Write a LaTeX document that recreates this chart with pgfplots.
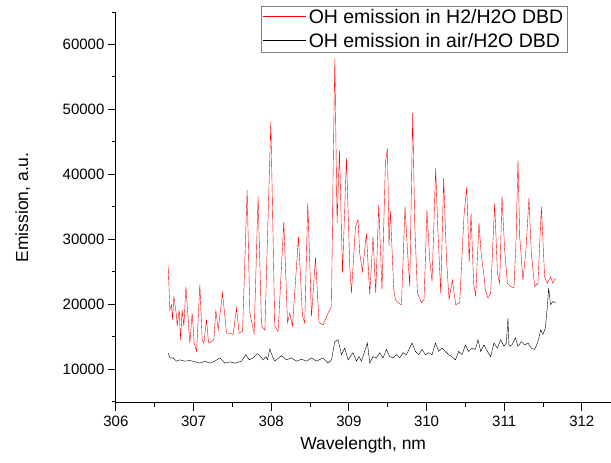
\documentclass[border=0pt]{standalone}
\usepackage{pgfplots}
\pgfplotsset{compat=1.18}
\usepackage{fontspec}
\setmainfont{Liberation Sans}
\begin{document}
\begin{tikzpicture}
\begin{axis}[
  scale only axis,
  width=495pt, height=391pt,
  xmin=306, xmax=312.37, ymin=4800, ymax=65000,
  axis x line*=bottom, axis y line*=left,
  axis line style={line width=0.9pt, -},
  tick align=outside,
  scaled y ticks=false, scaled x ticks=false,
  xtick={306,307,308,309,310,311,312},
  minor xtick={306.5,307.5,308.5,309.5,310.5,311.5},
  ytick={10000,20000,30000,40000,50000,60000},
  minor ytick={5000,15000,25000,35000,45000,55000,65000},
  major tick length=8pt, minor tick length=4pt,
  tick style={line width=0.9pt, black},
  /pgf/number format/1000 sep={},
  /pgf/number format/assume math mode=true,
  ticklabel style={font=\fontsize{15}{18}\selectfont},
  xticklabel style={yshift=-2pt},
  xlabel={Wavelength, nm}, ylabel={Emission, a.u.},
  label style={font=\fontsize{17.5}{21}\selectfont},
  xlabel style={at={(axis description cs:0.5,-0.107)}, anchor=center},
  ylabel style={at={(axis description cs:-0.188,0.5)}, anchor=center},
  legend style={at={(0.913,1.015)}, anchor=north east, draw=gray, line width=0.6pt,
    font=\fontsize{19.5}{23}\selectfont, inner xsep=2pt, inner ysep=1pt, row sep=4.5pt},
  legend cell align=left,
  legend image code/.code={\draw[#1, line width=0.7pt, yshift=0.5pt] (0pt,0pt) -- (43pt,0pt);},
  clip=false,
]
\addplot[red, line width=0.4pt] coordinates {
(306.673,25800)(306.695,19100)(306.717,19900)(306.730,17600)(306.746,21200)(306.781,18100)(306.789,16600)(306.815,19100)(306.833,14500)(306.853,19100)(306.875,16600)(306.901,22700)(306.931,17600)(306.952,14000)(306.982,18600)(307.008,14000)(307.039,12700)(307.081,23000)(307.111,14500)(307.133,14000)(307.167,17600)(307.193,14000)(307.232,14200)(307.261,14500)(307.287,19100)(307.317,16000)(307.373,21700)(307.425,15500)(307.467,15500)(307.510,15300)(307.553,19400)(307.587,15500)(307.631,15800)(307.690,37600)(307.725,18600)(307.780,15500)(307.831,36600)(307.875,16600)(307.918,16000)(307.995,48100)
(308.046,16600)(308.089,15800)(308.162,32700)(308.210,17100)(308.239,18600)(308.274,16600)(308.351,30400)(308.403,18100)(308.432,17100)(308.471,35600)(308.519,18100)(308.570,27200)(308.616,17100)(308.668,16800)(308.732,18600)(308.776,19600)(308.797,40200)(308.819,57800)(308.848,32500)(308.879,43700)(308.918,24800)(308.969,42500)(309.012,25800)(309.033,21700)(309.085,31900)(309.118,33000)(309.140,27800)(309.175,25000)(309.226,30900)(309.269,21500)(309.311,30400)(309.346,21700)(309.385,35300)(309.427,22200)(309.471,41900)(309.497,44000)(309.517,28900)(309.535,34300)(309.578,22200)(309.600,20700)(309.633,20200)(309.677,19900)(309.723,35000)(309.754,28400)(309.784,22700)(309.822,49400)(309.848,32500)(309.883,21700)(309.934,20200)(309.968,20700)
(310.006,34500)(310.041,26800)(310.071,23500)(310.118,40900)(310.148,30900)(310.183,21700)(310.221,39400)(310.256,27300)(310.290,20700)(310.333,23700)(310.376,19900)(310.427,20200)(310.483,33700)(310.518,38000)(310.550,26500)(310.573,34000)(310.607,23200)(310.633,21200)(310.676,32500)(310.707,27300)(310.736,24800)(310.758,22200)(310.792,20900)(310.826,21700)(310.878,35500)(310.913,24800)(310.942,23200)(310.972,36600)(311.006,28400)(311.041,23200)(311.084,22700)(311.126,22500)(311.152,29400)(311.178,42200)(311.200,30400)(311.242,23700)(311.281,28400)(311.319,36300)(311.350,27800)(311.393,22700)(311.435,23200)(311.479,35000)(311.521,24200)(311.556,23200)(311.598,24200)(311.628,23200)(311.659,24000)
};
\addlegendentry{OH emission in H2/H2O DBD}
\addplot[black, line width=0.4pt] coordinates {
(306.673,12460)(306.695,11700)(306.737,11700)(306.781,11200)(306.824,11400)(306.888,11200)(306.952,11300)(307.017,11100)(307.081,10900)(307.145,11200)(307.210,10900)(307.274,11200)(307.338,11700)(307.403,10900)(307.467,11100)(307.532,10900)(307.618,11200)(307.673,12200)(307.716,11400)(307.767,11700)(307.819,12350)(307.853,12050)(307.896,11400)(307.931,11900)(307.952,11400)(307.982,13100)
(308.017,11900)(308.046,11200)(308.133,12050)(308.197,11400)(308.261,11700)(308.326,11200)(308.390,11500)(308.454,11200)(308.519,11700)(308.583,11200)(308.668,11700)(308.732,10900)(308.776,11400)(308.819,14200)(308.861,14500)(308.905,12200)(308.947,13200)(308.990,11400)(309.054,12500)(309.097,11200)(309.131,11900)(309.162,11200)(309.239,14000)(309.269,10900)(309.311,11900)(309.355,11700)(309.398,12500)(309.440,11700)(309.484,13000)(309.526,11900)(309.569,11700)(309.613,12200)(309.655,11700)(309.698,12500)(309.741,12200)(309.775,13000)(309.813,14000)(309.857,12700)(309.900,12200)(309.942,13000)(309.986,12200)
(310.028,12500)(310.071,12200)(310.115,14000)(310.157,12700)(310.200,13200)(310.243,12700)(310.286,12200)(310.328,11900)(310.372,11400)(310.414,12700)(310.457,12200)(310.501,13700)(310.543,12700)(310.586,13200)(310.629,13000)(310.663,14500)(310.698,12700)(310.740,13700)(310.784,12700)(310.826,11900)(310.869,14000)(310.912,13200)(310.955,14500)(310.997,13500)(311.028,14000)(311.049,17800)(311.062,13500)(311.100,13700)(311.144,14800)(311.178,13500)(311.221,14200)(311.264,13700)(311.306,14000)(311.350,13200)(311.393,13000)(311.435,14200)(311.470,16000)(311.499,15300)(311.530,16300)(311.556,19600)(311.573,22500)(311.598,19900)(311.628,20400)(311.659,20200)
};
\addlegendentry{OH emission in air/H2O DBD}
\path (rel axis cs:0,0) ++(-116pt,-60pt) (rel axis cs:1,1) ++(0pt,12pt);
\end{axis}
\end{tikzpicture}
\end{document}
